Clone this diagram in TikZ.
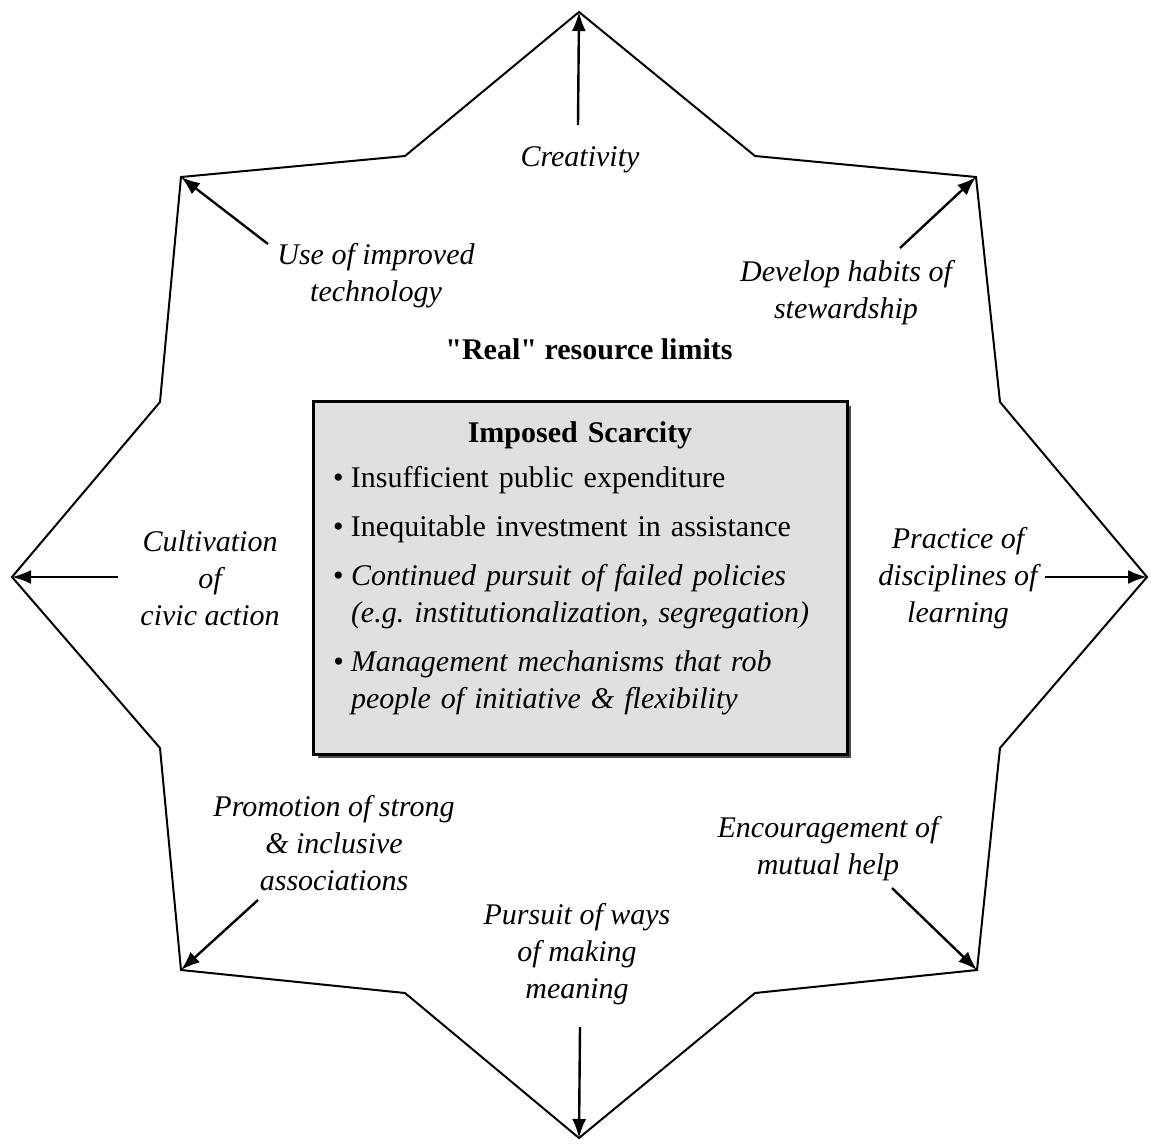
\documentclass[tikz,border=0pt]{standalone}
\usepackage{fontspec}
\setmainfont{Liberation Serif}[Ligatures=TeXOff]
\usetikzlibrary{arrows.meta}
\newcommand{\bul}[2][6pt]{\par\vspace{#1}\hangindent=9pt\hangafter=1\noindent\makebox[9pt][l]{\textbullet}#2}

\begin{document}
\begin{tikzpicture}[x=0.5pt ,y=-0.5pt ,-{Latex[length=9.5pt,width=7pt]} ,line width=1.2pt ,
		lbl/.style ={align=center ,font=\fontsize{15}{18.5}\selectfont\itshape ,inner sep=0pt},
		limit/.style ={font=\fontsize{15}{18}\selectfont\bfseries ,inner sep=0pt},
		scarce/.style ={draw ,line width=1.5pt ,fill=black!12 ,minimum width=267pt ,minimum height=176.5pt},
		list/.style ={text width=247pt ,inner sep=0pt ,align=left ,font=\fontsize{15}{18.5}\selectfont}]
		\useasboundingbox (0,0) rectangle (1151,1146);
		\coordinate (T) at (579,12);
		\coordinate (TR) at (976,177);
		\coordinate (R) at (1147,577);
		\coordinate (BR) at (977,970);
		\coordinate (B) at (579,1138);
		\coordinate (BL) at (181,970);
		\coordinate (L) at (12,577);
		\coordinate (TL) at (181,177);
		\draw[- ,line width=1pt] (T) -- (755,156) -- (TR) -- (1000,402) -- (R) -- (1000,748) -- (BR)
			-- (755,993) -- (B) -- (405,993) -- (BL) -- (160,748) -- (L) -- (160,402)
			-- (TL) -- (405,156) -- cycle;
		\fill[black!70] (318,406) rectangle (851,758);
		\node[scarce] (box) at (580,577.5) {};
		\node[list] (items) at ([yshift=4.5pt]box.center) {{\centering\bfseries Imposed Scarcity\par}
			\bul[4pt]{Insufficient public expenditure}
			\bul{Inequitable investment in assistance}
			\bul{\itshape Continued pursuit of failed policies (e.g.\ institutionalization, segregation)}
			\bul{\itshape Management mechanisms that rob people of initiative \& flexibility}\par};
		\node[limit] (real) at (589,349) {"Real" resource limits};
		\node[lbl] (creat) at (580,160) {Creativity};
		\node[lbl] (tech) at (376,276) {Use of improved\\technology};
		\node[lbl] (stew) at (846,293) {Develop habits of\\stewardship};
		\node[lbl] (learn) at (958,578) {Practice of\\disciplines of\\learning};
		\node[lbl] (civic) at (210,578) {Cultivation\\of\\civic action};
		\node[lbl] (assoc) at (334,843) {Promotion of strong\\\& inclusive\\associations};
		\node[lbl] (help) at (828,849) {Encouragement of\\mutual help};
		\node[lbl] (mean) at (577,954) {Pursuit of ways\\of making\\meaning};
		\coordinate (creatT) at (578,125);
		\coordinate (techT) at (268,244);
		\coordinate (stewT) at (900,248);
		\coordinate (learnT) at (1045,577);
		\coordinate (civicT) at (118,577);
		\coordinate (assocT) at (258,900);
		\coordinate (helpT) at (892,888);
		\coordinate (meanT) at (580,1027);
		\draw (creatT) -- (T);
		\draw (techT) -- (TL);
		\draw (stewT) -- (TR);
		\draw (learnT) -- (R);
		\draw (civicT) -- (L);
		\draw (assocT) -- (BL);
		\draw (helpT) -- (BR);
		\draw (meanT) -- (B);
\end{tikzpicture}
\end{document}
